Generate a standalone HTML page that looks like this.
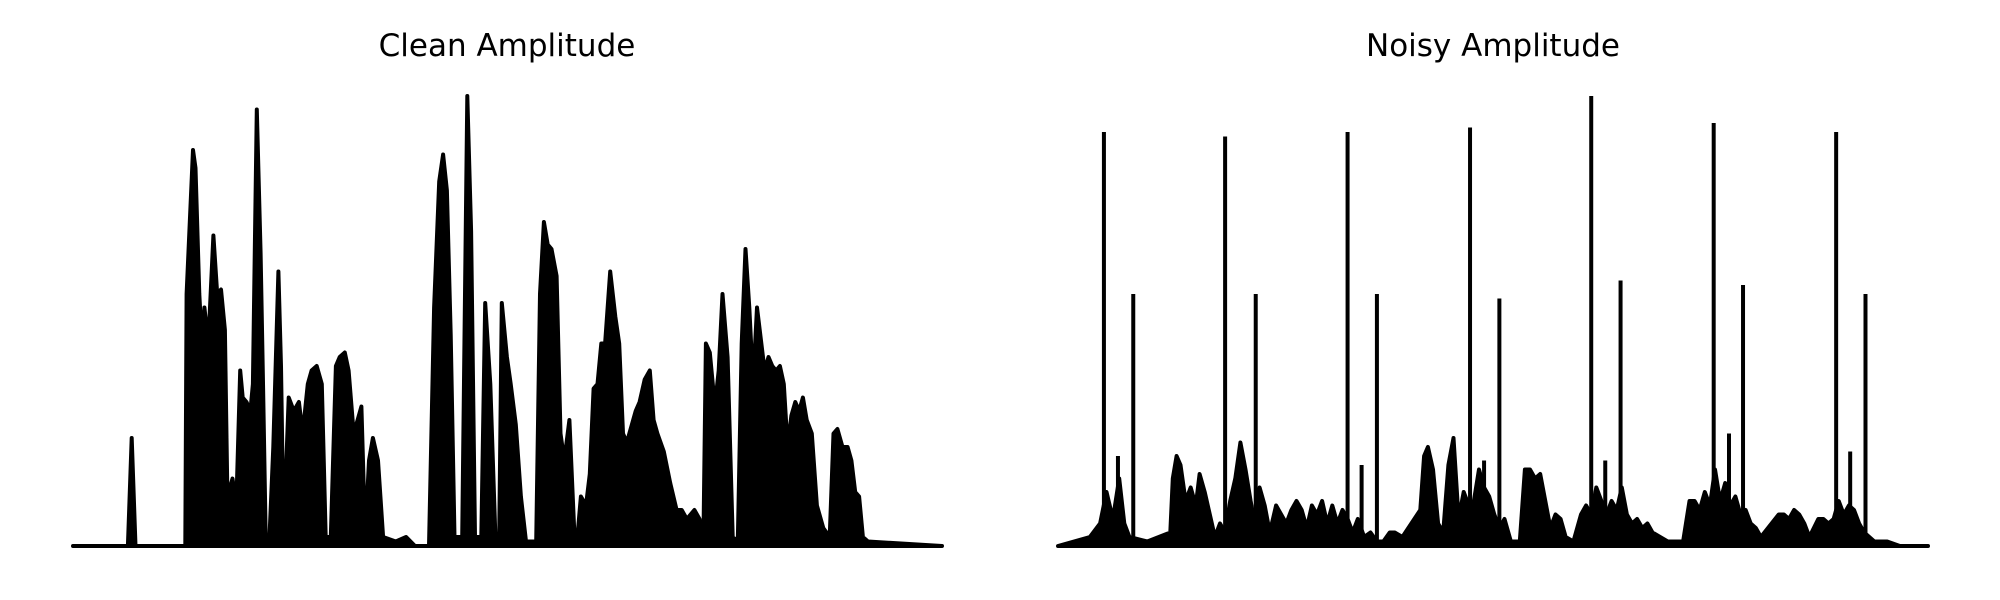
<!DOCTYPE html>
<html><head><meta charset="utf-8"><style>
html,body{margin:0;padding:0;background:#fff;}
svg{display:block;}
text{font-family:"DejaVu Sans","Liberation Sans",sans-serif;}
</style></head><body>
<svg id="chart" width="2000" height="600" viewBox="0 0 2000 600">
<text x="507" y="56" font-size="31" text-anchor="middle">Clean Amplitude</text>
<text x="1493" y="56" font-size="31" text-anchor="middle">Noisy Amplitude</text>
<g id="clean"></g>
<g id="noisy"></g>
</svg>
<script>
const cleanT=[0,43,46,49,88,89,94,96,99,101,103,106,110,113,116,119,121,125,128,131,133,136,139,141,144,147,149,151,154,157,161,163,165,169,173,177,180,184,187,191,195,198,202,206,209,213,216,220,223,226,229,232,235,239,243,253,261,268,279,283,287,290,293,296,299,305,309,312,315,320,323,327,331,334,336,340,343,347,351,355,363,366,369,372,375,379,382,385,389,393,395,398,402,405,408,411,414,417,421,425,428,431,434,438,441,444,448,452,455,458,463,468,473,477,481,487,491,494,496,499,503,506,509,513,517,521,524,527,530,533,536,539,542,545,548,551,554,557,560,563,566,569,572,575,579,583,588,593,596,599,603,607,610,613,616,619,623,681];
const cleanA=[0,0,0.24,0,0,0.56,0.88,0.84,0.56,0.45,0.53,0.45,0.69,0.56,0.57,0.48,0.11,0.15,0.09,0.39,0.33,0.32,0.30,0.36,0.97,0.65,0.35,0.02,0.02,0.22,0.61,0.40,0.02,0.33,0.30,0.32,0.25,0.36,0.39,0.40,0.36,0.02,0.02,0.40,0.42,0.43,0.39,0.25,0.28,0.31,0.02,0.19,0.24,0.19,0.02,0.01,0.02,0,0,0.53,0.81,0.87,0.79,0.47,0.02,0.02,1.0,0.70,0.02,0.02,0.54,0.36,0.02,0.02,0.54,0.42,0.36,0.27,0.11,0.01,0.01,0.56,0.72,0.67,0.66,0.60,0.25,0.19,0.28,0.02,0.01,0.11,0.09,0.16,0.35,0.36,0.45,0.45,0.61,0.51,0.45,0.25,0.23,0.27,0.30,0.32,0.37,0.39,0.28,0.25,0.21,0.14,0.08,0.08,0.06,0.08,0.06,0.01,0.45,0.43,0.31,0.39,0.56,0.42,0.02,0.01,0.45,0.66,0.53,0.36,0.53,0.46,0.39,0.42,0.40,0.39,0.40,0.36,0.22,0.29,0.32,0.30,0.33,0.28,0.25,0.09,0.04,0.02,0.25,0.26,0.22,0.22,0.19,0.12,0.11,0.02,0.01,0];
const noisyT=[0,25,33,38,43,48,52,56,70,88,90,93,96,100,104,108,111,115,119,123,127,131,135,139,143,147,151,155,158,162,166,171,175,179,183,187,191,195,199,203,207,211,215,219,223,227,231,235,240,245,250,255,260,264,270,284,287,290,294,298,302,306,310,314,318,322,326,330,334,338,342,346,350,355,362,366,370,374,378,382,386,390,394,398,404,410,414,418,422,426,430,434,438,442,446,450,454,458,462,466,472,478,490,495,499,503,507,511,515,519,523,527,531,535,539,543,547,551,565,569,573,577,581,585,589,596,600,604,608,612,616,620,624,628,632,640,650,660,682];
const noisyA=[0,0.02,0.05,0.12,0.06,0.15,0.05,0.02,0.01,0.03,0.15,0.2,0.18,0.1,0.13,0.09,0.16,0.12,0.07,0.02,0.05,0.03,0.1,0.15,0.23,0.17,0.1,0.04,0.13,0.09,0.03,0.09,0.07,0.05,0.08,0.1,0.08,0.04,0.09,0.07,0.1,0.05,0.09,0.05,0.08,0.06,0.03,0.06,0.02,0.03,0.01,0.01,0.03,0.03,0.02,0.08,0.2,0.22,0.17,0.05,0.03,0.18,0.24,0.06,0.12,0.09,0.1,0.17,0.13,0.11,0.07,0.04,0.06,0.01,0.01,0.17,0.17,0.15,0.16,0.1,0.04,0.07,0.06,0.02,0.01,0.07,0.09,0.07,0.13,0.1,0.07,0.1,0.08,0.13,0.07,0.05,0.06,0.04,0.05,0.03,0.02,0.01,0.01,0.1,0.1,0.08,0.12,0.09,0.17,0.1,0.14,0.09,0.11,0.07,0.08,0.05,0.04,0.02,0.07,0.07,0.06,0.08,0.07,0.05,0.02,0.06,0.06,0.05,0.06,0.1,0.07,0.09,0.08,0.05,0.03,0.01,0.01,0,0];
const spikeT=[36,59,47,131,155,227,250,238,323,346,334,418,441,429,514,537,526,610,633,621];
const spikeA=[0.92,0.56,0.2,0.91,0.56,0.92,0.56,0.18,0.93,0.55,0.19,1.0,0.59,0.19,0.94,0.58,0.25,0.92,0.56,0.21];

const NS="http://www.w3.org/2000/svg";
const BASE=546, H=450;
function drawPanel(g, x0, w, tmax, T, A){
  const sx=t=>x0+t/tmax*w, sy=a=>BASE-a*H;
  let pts=T.map((t,i)=>sx(t).toFixed(1)+","+sy(A[i]).toFixed(1)).join(" ");
  const poly=document.createElementNS(NS,"polygon");
  poly.setAttribute("points",pts+" "+sx(tmax)+","+BASE+" "+sx(0)+","+BASE);
  poly.setAttribute("fill","#000");poly.setAttribute("stroke","#000");
  poly.setAttribute("stroke-width","4");poly.setAttribute("stroke-linejoin","round");
  
  
  g.appendChild(poly);
  return {sx,sy};
}
const c=drawPanel(document.getElementById("clean"),73,869,681,cleanT,cleanA);
const n=drawPanel(document.getElementById("noisy"),1058,870,682,noisyT,noisyA);
const ng=document.getElementById("noisy");
spikeT.forEach((t,i)=>{
  const l=document.createElementNS(NS,"line");
  l.setAttribute("x1",n.sx(t));l.setAttribute("x2",n.sx(t));
  l.setAttribute("y1",BASE);l.setAttribute("y2",n.sy(spikeA[i]));
  l.setAttribute("stroke","#000");l.setAttribute("stroke-width","4");
  
  
  ng.appendChild(l);
});
</script>
</body></html>
